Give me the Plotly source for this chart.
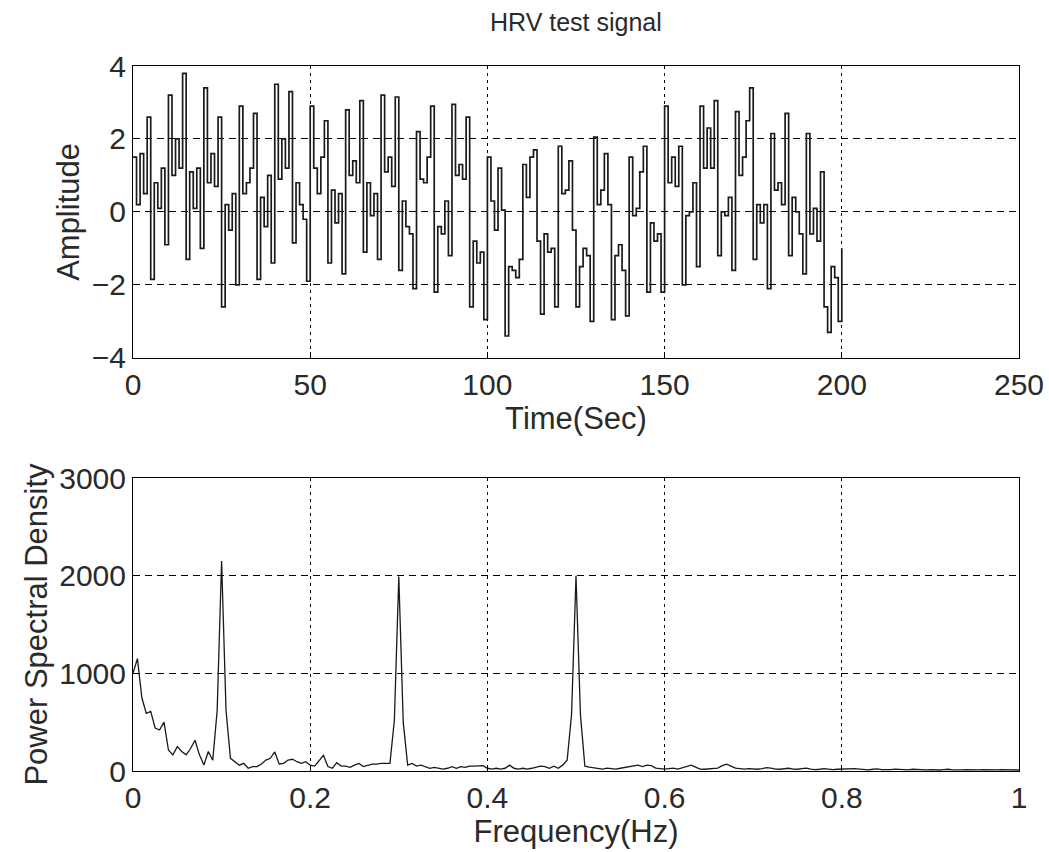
import plotly.graph_objects as go

# ---------------- data ----------------
time_s = list(range(0, 201))  # seconds, 1 s hold per sample

amplitude = [
    1.5, 0.2, 1.6, 0.5, 2.6, -1.85, 0.8, 0.1, 1.2, -0.9,
    3.2, 1.0, 2.0, 1.2, 3.8, -1.3, 1.1, 0.1, 1.2, -1.0,
    3.4, 0.8, 1.6, 0.7, 2.6, -2.6, 0.2, -0.5, 0.5, -2.0,
    2.9, 0.5, 0.8, 1.2, 2.7, -1.85, 0.4, -0.4, 1.0, -1.4,
    3.5, 0.9, 2.0, 1.2, 3.3, -0.85, 0.8, 0.2, -0.2, -1.9,
    2.9, 1.2, 0.5, 1.5, 2.5, -1.4, 0.6, -0.3, 0.5, -1.7,
    2.8, 1.0, 1.4, 0.8, 3.05, -1.1, 0.8, -0.1, 0.5, -1.3,
    3.2, 1.1, 1.5, 0.7, 3.15, -1.6, 0.3, -0.4, -0.6, -2.1,
    2.2, 0.9, 0.8, 1.5, 2.9, -2.2, -0.4, -0.6, 0.3, -1.2,
    2.95, 1.0, 1.3, 0.9, 2.6, -2.6, -0.8, -1.4, -1.1, -2.95,
    1.5, 0.3, -0.5, 1.2, 0.05, -3.4, -1.5, -1.6, -1.8, -1.3,
    1.3, 0.4, 1.5, 1.7, -0.8, -2.8, -0.6, -1.1, -1.0, -2.6,
    1.8, 0.5, 0.6, 1.4, -0.5, -2.6, -1.5, -1.0, -1.2, -3.0,
    2.05, 0.2, 0.6, 1.6, 0.2, -2.95, -1.2, -0.9, -1.6, -2.85,
    1.5, -0.1, 0.1, 1.1, 1.8, -2.2, -0.3, -0.8, -0.6, -2.2,
    2.9, 0.8, 1.5, 0.7, 1.8, -2.0, -0.1, 0.0, 0.8, -1.5,
    2.9, 1.2, 2.3, 1.2, 3.05, -1.2, 0.0, -0.1, 0.4, -1.6,
    2.75, 1.0, 1.5, 2.5, 3.4, -1.3, 0.2, -0.3, 0.2, -2.1,
    2.15, 0.6, 0.8, 0.2, 2.7, -1.2, 0.4, 0.0, -0.6, -1.7,
    2.15, -0.6, 0.1, -0.8, 1.1, -2.6, -3.3, -1.5, -1.8, -3.0,
    -1.0,
]

psd = [
    1000, 1150, 750, 590, 610, 440, 420, 500, 215, 165,
    250, 200, 165, 230, 315, 165, 62, 200, 110, 620,
    2150, 620, 130, 95, 60, 78, 28, 45, 45, 72,
    112, 130, 195, 72, 78, 112, 120, 95, 78, 95,
    60, 50, 110, 160, 45, 28, 85, 50, 50, 38,
    60, 78, 45, 60, 70, 70, 78, 78, 78, 520,
    1990, 500, 60, 78, 50, 60, 45, 28, 38, 28,
    20, 28, 45, 28, 45, 38, 50, 50, 50, 55,
    28, 20, 28, 20, 28, 60, 28, 20, 28, 20,
    28, 38, 50, 45, 28, 50, 28, 60, 110, 580,
    2000, 580, 50, 40, 35, 25, 20, 30, 25, 20,
    28, 35, 45, 55, 60, 45, 60, 55, 30, 25,
    20, 25, 30, 20, 35, 50, 60, 40, 20, 18,
    22, 20, 30, 55, 70, 50, 30, 25, 20, 25,
    20, 18, 25, 35, 30, 20, 18, 22, 28, 20,
    18, 25, 30, 20, 15, 18, 25, 20, 15, 18,
    20, 15, 18, 25, 20, 15, 12, 18, 22, 15,
    12, 15, 20, 15, 10, 12, 18, 15, 10, 12,
    15, 12, 10, 14, 18, 12, 10, 12, 15, 12,
    10, 12, 14, 12, 10, 12, 15, 12, 10, 12,
    10,
]
freq_step = 0.005
freq = [round(i * freq_step, 3) for i in range(len(psd))]

time_ticks = [0, 50, 100, 150, 200, 250]
amp_ticks = [-4, -2, 0, 2, 4]
freq_ticks = [0, 0.2, 0.4, 0.6, 0.8, 1]
freq_ticktext = ["0", "0.2", "0.4", "0.6", "0.8", "1"]
psd_ticks = [0, 1000, 2000, 3000]

# ---------------- figure ----------------
FONT = "Liberation Sans, Arial, sans-serif"
INK = "#1a1a1a"
TXT = "#2a2a2a"

fig = go.Figure()
fig.add_trace(go.Scatter(
    x=time_s, y=amplitude, mode="lines",
    line=dict(color=INK, width=1.7, shape="hv"),
    xaxis="x", yaxis="y", showlegend=False, hoverinfo="skip",
))
fig.add_trace(go.Scatter(
    x=freq, y=psd, mode="lines",
    line=dict(color=INK, width=1.3),
    xaxis="x2", yaxis="y2", showlegend=False, hoverinfo="skip",
))

base = dict(
    showline=True, linecolor="black", linewidth=1, mirror=True,
    showgrid=True, gridcolor="black", gridwidth=1,
    zeroline=False, ticks="inside", ticklen=6, tickcolor="black",
    tickfont=dict(family=FONT, size=30, color=TXT), automargin=False,
)
xgrid = dict(base, griddash="3px,4px")
ygrid = dict(base, griddash="7px,5px")
title_font = dict(family=FONT, size=31, color=TXT)

fig.update_layout(
    width=1049, height=852,
    margin=dict(l=133, r=30, t=66, b=81),
    paper_bgcolor="white", plot_bgcolor="white",
    title=dict(text="HRV test signal", x=0.549, xanchor="center",
               y=1 - 22 / 852, yanchor="middle",
               font=dict(family=FONT, size=25, color=TXT)),
    xaxis=dict(domain=[0, 1], anchor="y", range=[0, 250], tickvals=time_ticks,
               title=dict(text="Time(Sec)", font=title_font, standoff=0), **xgrid),
    yaxis=dict(domain=[0.586, 1], anchor="x", range=[-4, 4], tickvals=amp_ticks,
               title=dict(text="Amplitude", font=title_font, standoff=2), **ygrid),
    xaxis2=dict(domain=[0, 1], anchor="y2", range=[0, 1], tickvals=freq_ticks,
                ticktext=freq_ticktext,
                title=dict(text="Frequency(Hz)", font=title_font, standoff=0), **xgrid),
    yaxis2=dict(domain=[0, 0.4156], anchor="x2", range=[0, 3000], tickvals=psd_ticks,
                title=dict(text="Power Spectral Density", font=title_font, standoff=2),
                **ygrid),
)

fig.write_html("out.html")
